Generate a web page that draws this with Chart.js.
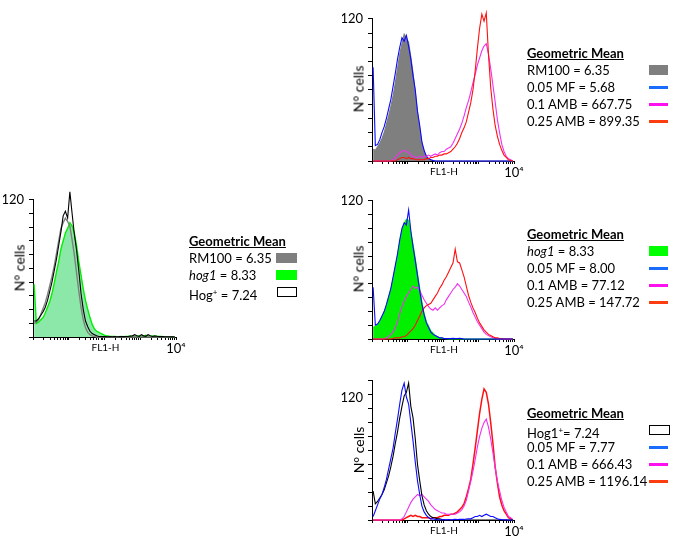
<!DOCTYPE html>
<html><head><meta charset="utf-8">
<script src="https://cdn.jsdelivr.net/npm/chart.js@4/dist/chart.umd.min.js"></script>
<style>
body{margin:0;background:#fff;width:678px;height:541px;overflow:hidden;position:relative;font-family:Lato,"Open Sans",sans-serif;color:#000}
canvas{position:absolute}
.t{position:absolute;white-space:nowrap;font-size:13px;line-height:17px}
.h{font-weight:bold;text-decoration:underline}
.sw{position:absolute;box-sizing:border-box}
.yt{position:absolute;font-size:14px;white-space:nowrap;transform:translate(-50%,-50%) rotate(-90deg)}
.xt{position:absolute;font-size:10px;white-space:nowrap;transform:translate(-50%,-50%)}
.yl{position:absolute;font-size:13px;width:23px;text-align:right;line-height:14px}
</style></head><body>
<script>
// ---- data: counts per log channel (16 channels per decade, 4 decades) ----
const tickLabelMax = '10\u2074';
const yTickTop = '120';

const A_RM100 = [12,13,15,20,25,30,37,45,53,62,73,84,95,100,104,101,97,85,72,56,40,26,15,8,4,2,1,0.5,0,0,0,0,0,0,0,0,0,0,0,0,0,0,0,0,0,0,0,0,0,0,0,0,0,0,0,0,0,0,0,0,0,0,0,0];
const A_hog1 = [46,12,13,15,17,21,26,31,38,47,57,66,77,84,91,95,100,97,91,80,66,54,42,32,24,17,11,7,5,4,3,2,1,1,0.5,0.5,0.5,0.3,0.3,0.5,0.3,0.5,0.5,0.8,1,0.5,0.8,1.2,0.6,0.8,1.5,0.8,0.6,1,0.5,0.6,0.4,0.5,0.3,0.3,0.2,0.2,0.1,0];
const A_Hog = [14,14,16,19,22,26,32,40,48,58,68,80,92,106,110,104,127,108,90,76,58,38,24,14,9,5,3,2,1,0.5,0.5,0.3,0.3,0.2,0.3,0.2,0.3,0.2,0.3,0.5,0.3,0.5,0.4,0.8,1,2,1,0.5,2,1,0.6,2,1,0.5,1,0.6,0.3,0.5,0.3,0.2,0.2,0.1,0.1,0];

const B_RM100 = [10,9,12,15,19,24,31,38,46,55,66,78,90,99,107,104,100,88,74,58,41,27,15,8,4,2,1,0.5,0,0,0,0,0,0,0,0,0,0,0,0,0,0,0,0,0,0,0,0,0,0,0,0,0,0,0,0,0,0,0,0,0,0,0,0];
const B_MF = [79,13,14,18,24,29,36,44,52,63,74,86,96,104,101,106,97,86,72,60,42,30,16,9,4,2,1,0.5,0,0,0,0,0,0,0,0,0,0,0,0,0,0,0,0,0,0,0,0,0,0,0,0,0,0,0,0,0,0,0,0,0,0,0,0];
const B_AMB01 = [0,0,0,0,0,0,0,0,0,1,3,5,7,8,9,8,7,5,4,3,3,4,3,4,4,5,4,5,6,5,7,8,8,10,11,12,15,19,23,27,32,38,45,51,58,66,73,81,87,93,97,99,90,78,64,50,35,24,14,8,4,2,1,0];
const B_AMB025 = [0,0,0,0,0,0,0,0,0,0,0,1,2,3,3,2,3,2,2,1,1,1,1,1,2,2,3,3,4,4,5,5,6,6,7,8,10,12,15,19,24,28,33,41,49,60,76,95,112,124,118,125,90,62,44,30,21,14,9,5,3,1,0.5,0];

const C_hog1 = [10,11,12,15,19,23,29,36,43,52,62,72,84,94,100,104,103,92,82,70,57,44,32,22,15,11,7,5,3,2,1,1,0.5,0.3,0,0,0,0,0,0,0,0,0,0,0,0,0,0,0,0,0,0,0,0,0,0,0,0,0,0,0,0,0,0];
const C_MF = [45,12,13,16,20,24,30,37,44,54,64,74,86,96,101,99,112,94,80,68,55,42,30,21,14,10,6,4,3,2,1,1,0.5,0.3,0.4,0.3,0.5,0.3,0.4,0.5,0.3,0,0,0,0,0,0,0,0,0,0,0,0,0,0,0,0,0,0,0,0,0,0,0];
const C_AMB01 = [0,0,0,0,0,0,1,2,4,6,10,15,22,28,33,37,40,43,46,44,45,42,38,34,31,28,26,25,27,25,27,29,30,34,37,40,43,45,48,46,43,40,37,32,28,23,19,15,12,9,6,4,3,2,1,0.5,0,0,0,0,0,0,0,0];
const C_AMB025 = [0,0,0,0,0,0,0,0,0,0.5,1,1,1,2,2,3,5,7,9,12,16,20,24,27,29,30,31,34,37,40,44,47,51,54,58,62,66,78,67,66,60,54,46,38,32,27,23,18,14,11,8,6,4,3,2,1,1,0.5,0.3,0,0,0,0,0];

const D_Hog1 = [25,14,16,19,22,26,32,38,46,55,66,76,88,98,107,110,118,98,88,70,48,34,21,13,8,5,3,2,2,1,1,0.5,0,0,0,0,0,0,0,0,0,0,0,0,0,0,0,0,0,0,0,0,0,0,0,0,0,0,0,0,0,0,0,0];
const D_MF = [3,8,13,18,22,28,35,44,53,62,75,87,100,112,118,106,100,84,68,50,34,22,12,7,4,2,1,1,0.5,0.3,0.2,0.2,0.3,0.2,0.3,0.2,0.3,0.5,0.4,0.5,0.6,0.5,0.8,1,1,2,3,3,4,3,4,5,4,3,3,2,1,0.5,0.3,0.2,0.1,0,0,0];
const D_AMB01 = [0,0,0,0,0,0,0,0,0,0,0,0,0,1,3,7,11,15,18,20,22,21,22,20,18,16,13,11,9,8,7,6,6,5,5,5,5,5,6,7,9,12,17,25,33,42,52,63,72,79,84,87,80,70,58,45,34,25,17,11,7,3,2,0];
const D_AMB025 = [0,0,0,0,0,0,0,0,0,0,0,0,0,0,1,2,3,4,3,4,3,3,2,2,2,2,1,2,2,2,3,3,4,4,4,5,5,6,7,9,11,14,20,27,35,48,62,77,92,104,113,110,100,84,66,46,32,20,13,8,5,2,1,0];

const legendA = ['RM100 = 6.35', '<i>hog1</i> = 8.33', 'Hog<sup style="font-size:8px">+</sup> = 7.24'];
const legendB = ['RM100 = 6.35', '0.05 MF = 5.68', '0.1 AMB = 667.75', '0.25 AMB = 899.35'];
const legendC = ['<i>hog1</i> = 8.33', '0.05 MF = 8.00', '0.1 AMB = 77.12', '0.25 AMB = 147.72'];
const legendD = ['Hog1<sup style="font-size:8px">+</sup>= 7.24', '0.05 MF = 7.77', '0.1 AMB = 666.43', '0.25 AMB = 1196.14'];

// ---- styling ----
const COL = {grey:'#7f7f7f', mint:'rgb(140,232,168)', green:'#00f000', black:'#000', blue:'#0a0aff', mag:'#f030f0', red:'#ff1010'};
const SW = {blue:'#1a6cff', mag:'#ff10ee', red:'#ff3d10'};

Chart.defaults.font.family = 'Lato';
Chart.defaults.color = '#000';

const CH = 64, PER_DEC = 16;
const logTicks = [];
for (let d = 0; d < 4; d++) for (let m = 1; m <= 9; m++) logTicks.push(PER_DEC * (d + Math.log10(m)));
logTicks.push(CH);

function el(cls, html, css) {
  const e = document.createElement('div');
  e.className = cls; e.innerHTML = html; Object.assign(e.style, css);
  document.body.appendChild(e); return e;
}

function panel(g, sets, hideTop) {
  const Wy = 30, padT = 9, padR = 14, Hx = 20;
  const c = document.createElement('canvas');
  const w = g.R - g.L + Wy + padR, h = g.B - g.T + padT + Hx;
  c.width = w; c.height = h;
  c.style.width = w + 'px'; c.style.height = h + 'px';
  c.style.left = (g.L - Wy) + 'px'; c.style.top = (g.T - padT) + 'px';
  document.body.appendChild(c);
  new Chart(c, {
    type: 'line',
    data: { datasets: sets.map(s => ({
      data: s.v.map((y, i) => ({x: i + 0.5, y})),
      borderColor: s.c, backgroundColor: s.f || 'transparent',
      fill: s.f ? 'origin' : false, borderWidth: s.w || 1.1,
      pointRadius: 0, clip: false, tension: 0
    }))},
    options: {
      responsive: false, animation: false, devicePixelRatio: 1, events: [],
      layout: {padding: {left: 0, top: padT, right: padR, bottom: 0}},
      plugins: {legend: {display: false}, tooltip: {enabled: false}},
      scales: {
        x: {type: 'linear', min: 0, max: CH,
          afterBuildTicks: s => { s.ticks = logTicks.map(v => ({value: v})); },
          afterFit: s => { s.height = Hx; },
          ticks: {autoSkip: false, maxRotation: 0, padding: 1, font: {size: 13},
            callback: v => Math.abs(v - CH) < 1e-6 ? tickLabelMax : ''},
          grid: {drawOnChartArea: false, tickLength: 3, color: '#000', lineWidth: 1},
          border: {color: '#000', width: 1}},
        y: {min: 0, max: 120,
          afterFit: s => { s.width = Wy; },
          ticks: {stepSize: 12, autoSkip: false, padding: 5, font: {size: 13},
            callback: v => (v === 120 && !hideTop) ? yTickTop : ''},
          grid: {drawOnChartArea: false, tickLength: 4, color: '#000', lineWidth: 1},
          border: {color: '#000', width: 1}}
      }
    }
  });
  const cx = (g.L + g.R) / 2 + 1;
  el('yt', 'N° cells', {left: (g.L - 14) + 'px', top: ((g.T + g.B) / 2 + 1) + 'px'});
  el('xt', 'FL1-H', {left: cx + 'px', top: (g.B + 10) + 'px'});
}

function legend(x, y0, title, rows, swatches) {
  el('t h', title, {left: x + 'px', top: (y0 - 8.5) + 'px'});
  rows.forEach((r, i) => {
    const yc = y0 + 17 * (i + 1);
    el('t', r, {left: x + 'px', top: (yc - 8.5) + 'px'});
    const s = swatches[i];
    if (s.box) el('sw', '', {left: s.x + 'px', top: (yc - 5) + 'px', width: s.wd + 'px', height: '10px', background: s.box, border: s.border || 'none'});
    else el('sw', '', {left: s.x + 'px', top: (yc - 1.5) + 'px', width: '19px', height: '3px', background: s.line});
  });
}

// Panel A
panel({L: 33, R: 176, T: 196, B: 337}, [
  {v: A_Hog, c: COL.black},
  {v: A_RM100, c: COL.grey, w: 1.4},
  {v: A_hog1, c: COL.green, f: COL.mint, w: 1.4}
]);
legend(189, 241, 'Geometric Mean', legendA, [
  {box: COL.grey, x: 276, wd: 21}, {box: '#00ff00', x: 276, wd: 21}, {box: '#fff', border: '1px solid #000', x: 277, wd: 20}
]);

// Panel B
panel({L: 372, R: 514, T: 15, B: 161}, [
  {v: B_AMB025, c: COL.red},
  {v: B_AMB01, c: COL.mag},
  {v: B_MF, c: COL.blue},
  {v: B_RM100, c: COL.grey, f: COL.grey}
]);
legend(527, 53, 'Geometric Mean', legendB, [
  {box: COL.grey, x: 649, wd: 19}, {line: SW.blue, x: 649}, {line: SW.mag, x: 649}, {line: SW.red, x: 649}
]);

// Panel C
panel({L: 372, R: 514, T: 197, B: 339}, [
  {v: C_MF, c: COL.blue},
  {v: C_AMB025, c: COL.red},
  {v: C_AMB01, c: COL.mag},
  {v: C_hog1, c: COL.green, f: COL.green}
]);
legend(527, 234, 'Geometric Mean', legendC, [
  {box: '#00ff00', x: 649, wd: 19}, {line: SW.blue, x: 649}, {line: SW.mag, x: 649}, {line: SW.red, x: 649}
]);

// Panel D
panel({L: 372, R: 514, T: 377, B: 520}, [
  {v: D_MF, c: COL.blue},
  {v: D_Hog1, c: COL.black},
  {v: D_AMB01, c: COL.mag},
  {v: D_AMB025, c: COL.red, w: 1.5}
], true);
el('yl', yTickTop, {left: '340px', top: '390px'});
legend(527, 413, 'Geometric Mean', legendD, [
  {box: '#fff', border: '1px solid #000', x: 649, wd: 21}, {line: SW.blue, x: 649}, {line: SW.mag, x: 649}, {line: SW.red, x: 649}
]);
</script>
</body></html>
